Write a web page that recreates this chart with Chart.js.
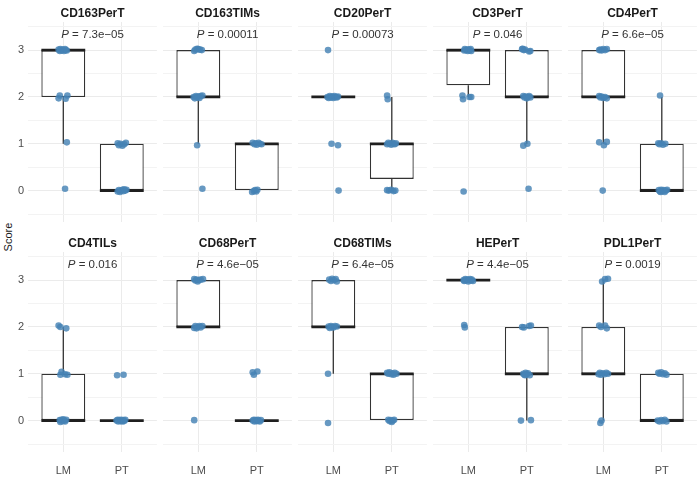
<!DOCTYPE html>
<html><head><meta charset="utf-8">
<script src="https://cdn.jsdelivr.net/npm/chart.js@4"></script>
<style>
body{margin:0;background:#fff;}
#wrap{position:relative;width:697px;height:480px;overflow:hidden;font-family:"Liberation Sans",Arial,sans-serif;background:#fff;}
#wrap canvas{position:absolute;left:0;top:0;}
#ylab{position:absolute;left:8px;top:237px;transform:translate(-50%,-50%) rotate(-90deg);font-size:11px;color:#1a1a1a;white-space:nowrap;}
</style></head><body>
<div id="wrap"><div id="ylab">Score</div></div>
<script>
// ---------- DATA ----------
const panelNames = ['CD163PerT','CD163TIMs','CD20PerT','CD3PerT','CD4PerT','CD4TILs','CD68PerT','CD68TIMs','HEPerT','PDL1PerT'];
const groupLabels = ['LM','PT'];
const pValueText = ['7.3e\u221205','0.00011','0.00073','0.046','6.6e\u221205','0.016','4.6e\u221205','6.4e\u221205','4.4e\u221205','0.0019'];
const pLabelY = 3.32;
const yMajorTicks = [0,1,2,3];
const yMinorTicks = [-0.5,0.5,1.5,2.5,3.5];

// boxplot statistics per panel (LM group at x=1, PT group at x=2)
const q1LM  = [2,2,2,2.25,2,0,2,2,3,1];
const medLM = [3,2,2,3,2,0,2,2,3,1];
const q3LM  = [3,3,2,3,3,1,3,3,3,2];
const loLM  = [1,1,2,2,1,0,2,1,3,0];
const hiLM  = [3,3,2,3,3,2,3,3,3,3];
const q1PT  = [0,0,0.25,2,0,0,0,0,1,0];
const medPT = [0,1,1,2,0,0,0,1,1,0];
const q3PT  = [1,1,1,3,1,0,0,1,2,1];
const loPT  = [0,0,0,1,0,0,0,0,0,0];
const hiPT  = [1,1,2,3,2,0,0,1,2,1];

// jittered observations [x, score]
const pts_CD163PerT = [
 [0.92,3.01],[0.94,2.98],[0.95,3.02],[0.97,2.99],[0.99,3.01],[1.01,2.98],[1.03,3.02],[1.04,3.00],[1.06,2.99],
 [0.92,1.97],[0.94,2.03],[1.04,1.96],[1.07,2.03],[1.06,1.03],[1.03,0.04],
 [1.93,1.01],[1.95,0.97],[1.98,1.00],[2.01,0.96],[2.04,0.99],[2.07,1.02],
 [1.93,-0.02],[1.95,0.01],[1.97,-0.03],[1.99,0.00],[2.01,0.02],[2.03,-0.01],[2.04,0.03],[2.06,0.00],[2.08,0.02]];
const pts_CD163TIMs = [
 [0.93,2.98],[0.95,3.01],[0.98,3.03],[1.00,3.02],[1.03,3.01],[1.06,3.00],
 [0.92,2.00],[0.94,1.97],[0.96,2.02],[0.98,1.99],[1.00,2.01],[1.02,1.98],[1.04,2.02],[1.07,2.03],
 [0.98,0.97],[1.07,0.04],
 [1.93,1.02],[1.96,0.99],[1.98,1.01],[2.00,0.98],[2.03,1.02],[2.05,1.00],[2.08,0.99],
 [1.92,-0.03],[1.95,-0.01],[1.97,0.01],[1.99,-0.02],[2.01,0.02]];
const pts_CD20PerT = [
 [0.91,3.00],
 [0.90,2.00],[0.92,1.98],[0.94,2.02],[0.96,1.99],[0.98,2.01],[1.00,1.98],[1.02,2.02],[1.04,2.00],[1.06,1.99],[1.08,2.01],
 [0.97,1.00],[1.08,0.97],[1.09,0.00],
 [1.92,2.03],[1.93,1.95],
 [1.92,0.99],[1.94,1.02],[1.96,1.00],[1.99,0.98],[2.01,1.02],[2.03,1.00],[2.05,0.99],[2.07,1.01],
 [1.92,0.01],[1.95,0.00],[1.99,0.02],[2.03,-0.01],[2.06,0.00]];
const pts_CD3PerT = [
 [0.93,2.99],[0.94,3.02],[0.96,3.00],[0.98,3.01],[0.99,2.98],[1.01,3.01],[1.02,2.99],[1.04,3.02],[1.05,2.98],
 [0.90,2.03],[0.91,1.95],[1.02,2.00],[1.05,2.00],[0.92,-0.02],
 [1.92,3.02],[1.93,3.03],[1.95,3.00],[1.97,3.01],[2.04,2.97],[2.06,2.98],
 [1.94,2.02],[1.96,1.99],[1.98,2.01],[2.00,1.97],[2.02,2.00],[2.04,2.02],[2.06,1.99],
 [1.94,0.96],[2.01,1.00],[2.03,0.04]];
const pts_CD4PerT = [
 [0.93,3.00],[0.95,3.01],[0.97,2.99],[1.00,3.02],[1.03,3.00],[1.06,3.02],
 [0.93,2.02],[0.95,1.99],[0.97,2.01],[1.00,1.98],[1.03,2.00],[1.06,1.97],
 [0.93,1.03],[1.01,0.97],[1.06,1.04],[0.99,0.00],
 [1.97,2.03],
 [1.94,1.01],[1.96,0.99],[1.99,1.01],[2.02,0.98],[2.06,1.00],
 [1.95,0.01],[1.97,-0.02],[1.99,0.02],[2.01,-0.01],[2.03,0.01],[2.05,-0.03],[2.07,0.00],[2.09,0.02],[1.98,-0.03]];
const pts_CD4TILs = [
 [0.92,2.03],[0.95,2.00],[1.05,1.97],
 [0.95,0.98],[0.97,1.04],[1.03,0.99],[1.07,0.98],
 [0.94,0.01],[0.95,-0.03],[0.97,0.02],[0.98,-0.01],[1.00,0.03],[1.02,0.00],[1.03,-0.02],[1.05,0.02],
 [1.92,0.97],[2.03,0.98],
 [1.91,0.00],[1.93,0.02],[1.94,-0.02],[1.96,0.01],[1.98,-0.01],[1.99,0.02],[2.01,-0.02],[2.03,0.01],[2.04,-0.01],[2.06,0.02]];
const pts_CD68PerT = [
 [0.93,3.02],[0.95,2.99],[0.97,3.01],[0.99,2.97],[1.01,3.00],[1.04,3.01],[1.08,3.02],
 [0.93,1.98],[0.95,2.02],[0.97,1.97],[0.99,2.00],[1.02,2.02],[1.04,1.99],[1.07,2.02],
 [0.93,0.01],
 [1.93,1.03],[1.95,0.98],[2.01,1.05],
 [1.93,0.00],[1.95,0.02],[1.96,-0.02],[1.98,0.01],[2.00,-0.01],[2.02,0.02],[2.03,0.00],[2.05,-0.02],[2.07,0.01]];
const pts_CD68TIMs = [
 [0.93,3.01],[0.96,2.98],[0.98,3.03],[1.01,3.00],[1.04,3.02],[1.06,2.97],
 [0.92,2.01],[0.94,1.98],[0.96,2.02],[0.98,2.00],[1.00,1.99],[1.03,2.02],[1.06,2.01],
 [0.91,1.00],[0.91,-0.05],
 [1.92,1.02],[1.94,1.00],[1.96,1.03],[1.99,0.99],[2.01,1.01],[2.03,0.98],[2.05,1.02],[2.08,1.00],
 [1.94,0.02],[1.96,-0.01],[1.98,0.01],[2.00,-0.03],[2.02,0.00],[2.04,0.02]];
const pts_HEPerT = [
 [0.92,3.00],[0.93,2.98],[0.95,3.02],[0.96,2.99],[0.98,3.01],[1.00,2.97],[1.01,3.00],[1.03,3.02],[1.05,2.99],[1.06,3.01],[1.08,2.98],
 [0.93,2.04],[0.94,1.99],
 [1.92,2.00],[1.95,1.99],[2.04,2.02],[2.07,2.03],
 [1.94,1.00],[1.96,0.98],[1.98,1.02],[2.00,0.99],[2.02,1.01],[2.05,0.97],[1.97,0.97],
 [1.90,0.00],[2.07,0.01]];
const pts_PDL1PerT = [
 [0.98,2.97],[1.03,3.02],[1.08,3.03],
 [0.93,2.03],[0.96,2.00],[1.03,2.03],[1.06,1.97],
 [0.92,0.99],[0.94,1.02],[0.96,0.98],[0.99,1.01],[1.02,0.99],[1.05,1.02],[1.08,1.00],
 [0.95,-0.05],[0.97,0.00],
 [1.94,1.02],[1.96,1.00],[1.99,1.03],[2.02,0.99],[2.05,1.01],[2.08,0.98],
 [1.93,0.00],[1.96,-0.02],[1.99,0.01],[2.02,-0.01],[2.05,0.02],[2.08,-0.02]];
const panelPoints = [pts_CD163PerT,pts_CD163TIMs,pts_CD20PerT,pts_CD3PerT,pts_CD4PerT,
                     pts_CD4TILs,pts_CD68PerT,pts_CD68TIMs,pts_HEPerT,pts_PDL1PerT];

// ---------- LAYOUT / STYLE ----------
const FONT = '"Liberation Sans", Arial, Helvetica, sans-serif';
const W = 697, H = 480;
const firstPanelLeft = 28.2, panelStride = 135, panelW = 128.7;
const rowTops = [22, 252], panelH = 200, titleH = 22;
const yAxisW = 28.2, xAxisH = 28;
const BOX_HALF = 0.375;
const lineCol = '#333333';

const pLabelPlugin = {
  id: 'pLabel',
  afterDatasetsDraw(chart, args, opts) {
    const ctx = chart.ctx, xs = chart.scales.x, ys = chart.scales.y;
    const cx = xs.getPixelForValue(1.5), cy = ys.getPixelForValue(opts.y);
    const fI = 'italic 11.5px ' + FONT, fN = '11.5px ' + FONT;
    ctx.save();
    ctx.fillStyle = '#333333';
    ctx.textBaseline = 'middle';
    ctx.textAlign = 'left';
    ctx.font = fI; const w1 = ctx.measureText('P').width;
    const rest = ' = ' + opts.text;
    ctx.font = fN; const w2 = ctx.measureText(rest).width;
    const sx = cx - (w1 + w2) / 2;
    ctx.font = fI; ctx.fillText('P', sx, cy);
    ctx.font = fN; ctx.fillText(rest, sx + w1, cy);
    ctx.restore();
  }
};

const wrap = document.getElementById('wrap');
panelNames.forEach((name, i) => {
  const row = Math.floor(i / 5), col = i % 5;
  const pLeft = firstPanelLeft + panelStride * col;
  const yW = col === 0 ? yAxisW : 0;
  const xH = row === 1 ? xAxisH : 0;
  const padding = {
    left: pLeft - yW,
    right: W - (pLeft + panelW),
    top: rowTops[row] - titleH,
    bottom: H - (rowTops[row] + panelH + xH)
  };
  const cv = document.createElement('canvas');
  cv.width = W; cv.height = H;
  cv.style.width = W + 'px'; cv.style.height = H + 'px';
  wrap.appendChild(cv);

  const boxData = [
    {x: 1, y: [q1LM[i], q3LM[i]]},
    {x: 2, y: [q1PT[i], q3PT[i]]}
  ];
  const whiskerData = [
    {x: 1, y: loLM[i]}, {x: 1, y: q1LM[i]}, {x: 1, y: null},
    {x: 1, y: q3LM[i]}, {x: 1, y: hiLM[i]}, {x: 1, y: null},
    {x: 2, y: loPT[i]}, {x: 2, y: q1PT[i]}, {x: 2, y: null},
    {x: 2, y: q3PT[i]}, {x: 2, y: hiPT[i]}
  ];
  const medianData = [
    {x: 1 - BOX_HALF, y: medLM[i]}, {x: 1 + BOX_HALF, y: medLM[i]}, {x: 1.5, y: null},
    {x: 2 - BOX_HALF, y: medPT[i]}, {x: 2 + BOX_HALF, y: medPT[i]}
  ];
  const pointData = panelPoints[i].map(p => ({x: p[0], y: p[1]}));

  new Chart(cv, {
    type: 'scatter',
    data: {
      datasets: [
        {type: 'scatter', data: pointData, backgroundColor: 'rgba(70,130,180,0.82)',
         borderWidth: 0, pointRadius: 3.3, pointHoverRadius: 3.3, order: 0},
        {type: 'line', data: medianData, borderColor: '#1f1f1f', borderWidth: 2.8,
         pointRadius: 0, spanGaps: false, fill: false, tension: 0, borderCapStyle: 'butt', order: 1},
        {type: 'line', data: whiskerData, borderColor: lineCol, borderWidth: 1.3,
         pointRadius: 0, spanGaps: false, fill: false, tension: 0, borderCapStyle: 'butt', order: 2},
        {type: 'bar', data: boxData, backgroundColor: '#ffffff', borderColor: lineCol,
         borderWidth: 1.3, borderSkipped: false, categoryPercentage: 1, barPercentage: BOX_HALF * 2, order: 3}
      ]
    },
    options: {
      responsive: false,
      animation: false,
      devicePixelRatio: 1,
      events: [],
      layout: {padding: padding, autoPadding: false},
      plugins: {
        legend: {display: false},
        tooltip: {enabled: false},
        title: {
          display: true, text: name, fullSize: false, color: '#1a1a1a',
          font: {family: FONT, size: 12, weight: 'bold'},
          padding: {top: 6.8, bottom: 0.8}
        },
        pLabel: {text: pValueText[i], y: pLabelY}
      },
      scales: {
        x: {
          type: 'linear', min: 0.4, max: 2.6, offset: false,
          afterBuildTicks: s => { s.ticks = [{value: 1}, {value: 2}]; },
          afterFit: s => { s.height = xH; },
          border: {display: false},
          grid: {color: '#EBEBEB', lineWidth: 1, drawTicks: false, offset: false},
          ticks: {
            display: row === 1, padding: 12, color: '#4D4D4D',
            font: {family: FONT, size: 11},
            callback: v => groupLabels[Math.round(v) - 1]
          }
        },
        y: {
          type: 'linear', min: -0.67, max: 3.6,
          afterBuildTicks: s => {
            s.ticks = yMinorTicks.concat(yMajorTicks).sort((a, b) => a - b).map(v => ({value: v}));
          },
          afterFit: s => { s.width = yW; },
          border: {display: false},
          grid: {
            drawTicks: false,
            color: c => Number.isInteger(c.tick.value) ? '#EBEBEB' : '#F3F3F3',
            lineWidth: 1
          },
          ticks: {
            display: col === 0, padding: 4, color: '#4D4D4D',
            font: {family: FONT, size: 11},
            callback: v => yMajorTicks.includes(v) ? String(v) : ''
          }
        }
      }
    },
    plugins: [pLabelPlugin]
  });
});
</script>
</body></html>
